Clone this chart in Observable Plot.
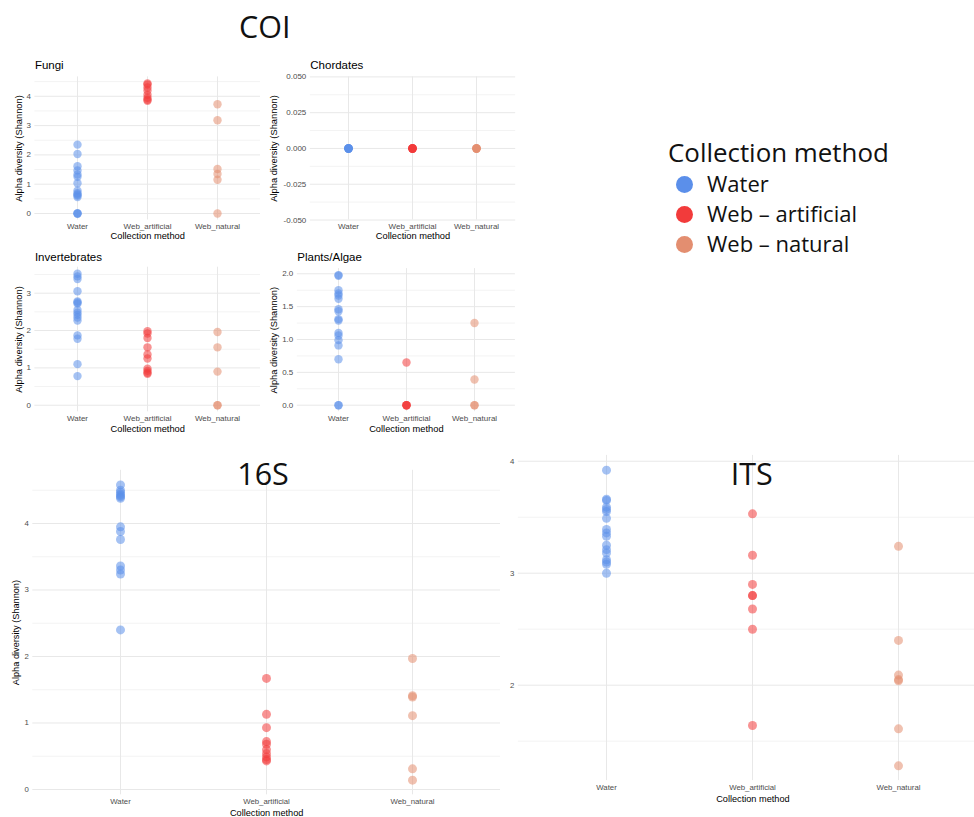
<!DOCTYPE html>
<html><head><meta charset="utf-8">
<script src="https://cdn.jsdelivr.net/npm/d3@7"></script>
<script src="https://cdn.jsdelivr.net/npm/@observablehq/plot@0.6"></script>
<style>
html,body{margin:0;padding:0;background:#fff;}
#root{position:relative;width:974px;height:817px;overflow:hidden;background:#fff;}
.big{position:absolute;font-family:"Open Sans",sans-serif;font-size:30.5px;color:#111;transform:translate(-50%,-50%);white-space:nowrap;line-height:1;}
.legtitle{position:absolute;font-family:"Open Sans",sans-serif;font-size:25.9px;color:#111;white-space:nowrap;line-height:1;transform:translateY(-50%);}
</style></head><body><div id="root"></div>
<script>
// ---------- data ----------
const categories = ["Water", "Web_artificial", "Web_natural"];
const legendLabels = ["Water", "Web – artificial", "Web – natural"];
const colors = ["#5B8FEA", "#F23B3B", "#E38E70"];
const xLabel = "Collection method";
const yLabel = "Alpha diversity (Shannon)";

// COI – Fungi
const fungiWater = [2.35, 2.03, 1.61, 1.47, 1.33, 1.25, 1.03, 0.78, 0.69, 0.65, 0.61, 0.56, 0, 0, 0];
const fungiArtificial = [4.44, 4.4, 4.3, 4.2, 4.05, 3.95, 3.88, 3.85];
const fungiNatural = [3.73, 3.18, 1.52, 1.35, 1.15, 0];
const fungiTicks = [0, 1, 2, 3, 4];
const fungiMinor = [0.5, 1.5, 2.5, 3.5, 4.5];

// COI – Chordates
const chordWater = [0, 0, 0, 0, 0, 0, 0, 0];
const chordArtificial = [0, 0, 0, 0, 0, 0, 0, 0];
const chordNatural = [0, 0, 0, 0, 0, 0];
const chordTicks = [-0.05, -0.025, 0, 0.025, 0.05];
const chordMinor = [-0.0375, -0.0125, 0.0125, 0.0375];

// COI – Invertebrates
const invWater = [3.52, 3.45, 3.38, 3.05, 2.78, 2.75, 2.72, 2.55, 2.48, 2.42, 2.35, 2.27, 1.87, 1.78, 1.1, 0.78];
const invArtificial = [1.98, 1.92, 1.8, 1.55, 1.36, 1.25, 0.98, 0.92, 0.87, 0.84];
const invNatural = [1.96, 1.55, 0.9, 0, 0];
const invTicks = [0, 1, 2, 3];
const invMinor = [0.5, 1.5, 2.5, 3.5];

// COI – Plants/Algae
const plantWater = [1.98, 1.97, 1.75, 1.7, 1.67, 1.62, 1.46, 1.43, 1.31, 1.29, 1.1, 1.06, 0.99, 0.91, 0.7, 0, 0];
const plantArtificial = [0.65, 0, 0, 0, 0];
const plantNatural = [1.25, 0.39, 0, 0];
const plantTicks = [0, 0.5, 1, 1.5, 2];
const plantMinor = [0.25, 0.75, 1.25, 1.75];

// 16S
const s16Water = [4.58, 4.5, 4.47, 4.44, 4.42, 4.4, 4.38, 3.95, 3.88, 3.76, 3.36, 3.3, 3.24, 2.4];
const s16Artificial = [1.67, 1.13, 0.93, 0.72, 0.68, 0.6, 0.54, 0.49, 0.45, 0.43];
const s16Natural = [1.97, 1.41, 1.39, 1.11, 0.31, 0.14];
const s16Ticks = [0, 1, 2, 3, 4];
const s16Minor = [0.5, 1.5, 2.5, 3.5, 4.5];

// ITS
const itsWater = [3.92, 3.66, 3.65, 3.59, 3.57, 3.55, 3.49, 3.39, 3.36, 3.33, 3.25, 3.21, 3.18, 3.12, 3.1, 3.08, 3.0];
const itsArtificial = [3.53, 3.16, 2.9, 2.8, 2.8, 2.68, 2.5, 1.64];
const itsNatural = [3.24, 2.4, 2.09, 2.05, 2.04, 1.61, 1.28];
const itsTicks = [2, 3, 4];
const itsMinor = [1.5, 2.5, 3.5];

// ---------- helpers ----------
const root = document.getElementById("root");
function rows(w, a, n) {
  return [
    ...w.map(v => ({method: categories[0], value: v})),
    ...a.map(v => ({method: categories[1], value: v})),
    ...n.map(v => ({method: categories[2], value: v}))
  ];
}
function place(el, left, top) {
  el.style.position = "absolute";
  el.style.left = left + "px";
  el.style.top = top + "px";
  root.appendChild(el);
}
function panel(c) {
  const chart = Plot.plot({
    width: c.width, height: c.height,
    marginLeft: c.mL, marginRight: c.mR, marginTop: c.mT, marginBottom: c.mB,
    style: {background: "transparent", fontFamily: "'Liberation Sans', Arial, sans-serif", overflow: "visible"},
    x: {type: "point", domain: categories, padding: 0.6, axis: null},
    y: {domain: c.domain, axis: null},
    color: {domain: categories, range: colors},
    marks: [
      Plot.ruleY(c.minor, {stroke: "#f3f3f3", strokeWidth: 1}),
      Plot.ruleY(c.ticks, {stroke: "#e8e8e8", strokeWidth: 1}),
      Plot.ruleX(categories, {stroke: "#e8e8e8", strokeWidth: 1}),
      Plot.axisY(c.ticks, {tickSize: 0, tickPadding: 4, tickFormat: c.fmt, fontSize: c.tick, color: "#4d4d4d", label: null}),
      Plot.axisX({tickSize: 0, tickPadding: c.xPad, fontSize: c.tick, color: "#4d4d4d", label: null}),
      Plot.dot(c.data, {x: "method", y: "value", fill: "method", r: c.r, fillOpacity: 0.55}),
      Plot.text([xLabel], {frameAnchor: "bottom", dy: c.xLabDy, fontSize: c.axis, fill: "black", textAnchor: "middle", lineAnchor: "middle"}),
      c.yLab ? Plot.text([yLabel], {frameAnchor: "left", dx: c.yLabDx, rotate: -90, fontSize: c.axis, fill: "black", textAnchor: "middle", lineAnchor: "middle"}) : null,
      c.title ? Plot.text([c.title], {frameAnchor: "top-left", dy: c.titleDy, fontSize: 11.5, fill: "black", textAnchor: "start", lineAnchor: "middle"}) : null
    ]
  });
  place(chart, c.left, c.top);
}
const intFmt = d => String(d);

// ---------- panels ----------
panel({left: 0, top: 55, width: 262, height: 190, mL: 34.4, mR: 2, mT: 21.4, mB: 25.5,
  domain: [-0.222, 4.662], ticks: fungiTicks, minor: fungiMinor, fmt: intFmt,
  data: rows(fungiWater, fungiArtificial, fungiNatural), title: "Fungi", titleDy: -11.4,
  yLab: true, yLabDx: -16, tick: 8, axis: 9.3, xPad: 3.5, xLabDy: 16.5, r: 4.2});

panel({left: 262, top: 55, width: 260, height: 190, mL: 47.8, mR: 6.8, mT: 21.4, mB: 25.5,
  domain: [-0.05, 0.05], ticks: chordTicks, minor: chordMinor, fmt: d => d.toFixed(3),
  data: rows(chordWater, chordArtificial, chordNatural), title: "Chordates", titleDy: -11.4,
  yLab: true, yLabDx: -36.5, tick: 8, axis: 9.3, xPad: 3.5, xLabDy: 16.5, r: 4.2});

panel({left: 0, top: 245, width: 262, height: 190, mL: 34.4, mR: 2, mT: 21.7, mB: 23.7,
  domain: [-0.176, 3.696], ticks: invTicks, minor: invMinor, fmt: intFmt,
  data: rows(invWater, invArtificial, invNatural), title: "Invertebrates", titleDy: -10,
  yLab: true, yLabDx: -16, tick: 8, axis: 9.3, xPad: 3.5, xLabDy: 17.7, r: 4.2});

panel({left: 262, top: 245, width: 260, height: 190, mL: 34.8, mR: 7.1, mT: 23.1, mB: 23.8,
  domain: [-0.099, 2.079], ticks: plantTicks, minor: plantMinor, fmt: d => d.toFixed(1),
  data: rows(plantWater, plantArtificial, plantNatural), title: "Plants/Algae", titleDy: -11,
  yLab: true, yLabDx: -23.5, tick: 8, axis: 9.3, xPad: 3.5, xLabDy: 17.8, r: 4.2});

panel({left: 0, top: 440, width: 500, height: 377, mL: 32.3, mR: 0, mT: 29.8, mB: 22.7,
  domain: [-0.08, 4.80], ticks: s16Ticks, minor: s16Minor, fmt: intFmt,
  data: rows(s16Water, s16Artificial, s16Natural), title: null,
  yLab: true, yLabDx: -17, tick: 7.8, axis: 9.2, xPad: 3.5, xLabDy: 18.4, r: 4.5});

panel({left: 500, top: 440, width: 487, height: 377, mL: 17.8, mR: 0, mT: 14.9, mB: 36.9,
  domain: [1.148, 4.052], ticks: itsTicks, minor: itsMinor, fmt: intFmt,
  data: rows(itsWater, itsArtificial, itsNatural), title: null,
  yLab: false, tick: 7.8, axis: 9.2, xPad: 4, xLabDy: 18.9, r: 4.5});

// ---------- big titles ----------
function big(text, x, y) {
  const d = document.createElement("div");
  d.className = "big";
  d.textContent = text;
  d.style.left = x + "px";
  d.style.top = y + "px";
  root.appendChild(d);
}
big("COI", 264.7, 26);
big("16S", 263, 473);
big("ITS", 751.7, 473);

// ---------- legend ----------
const lt = document.createElement("div");
lt.className = "legtitle";
lt.textContent = "Collection method";
lt.style.left = "668px";
lt.style.top = "153px";
root.appendChild(lt);

const legend = Plot.plot({
  width: 260, height: 96, marginLeft: 24, marginRight: 0, marginTop: 0, marginBottom: 0,
  style: {background: "transparent", overflow: "visible"},
  y: {type: "point", domain: legendLabels, range: [18.5, 78.5], padding: 0, axis: null},
  color: {domain: legendLabels, range: colors},
  marks: [
    Plot.dot(legendLabels, {y: d => d, frameAnchor: "left", r: 8.5, fill: d => d}),
    Plot.text(legendLabels, {y: d => d, text: d => d, frameAnchor: "left", dx: 22.5, textAnchor: "start", lineAnchor: "middle", fontSize: 22, fontFamily: "'Open Sans', sans-serif", fill: "#111"})
  ]
});
place(legend, 660, 165);
</script>
</body></html>
